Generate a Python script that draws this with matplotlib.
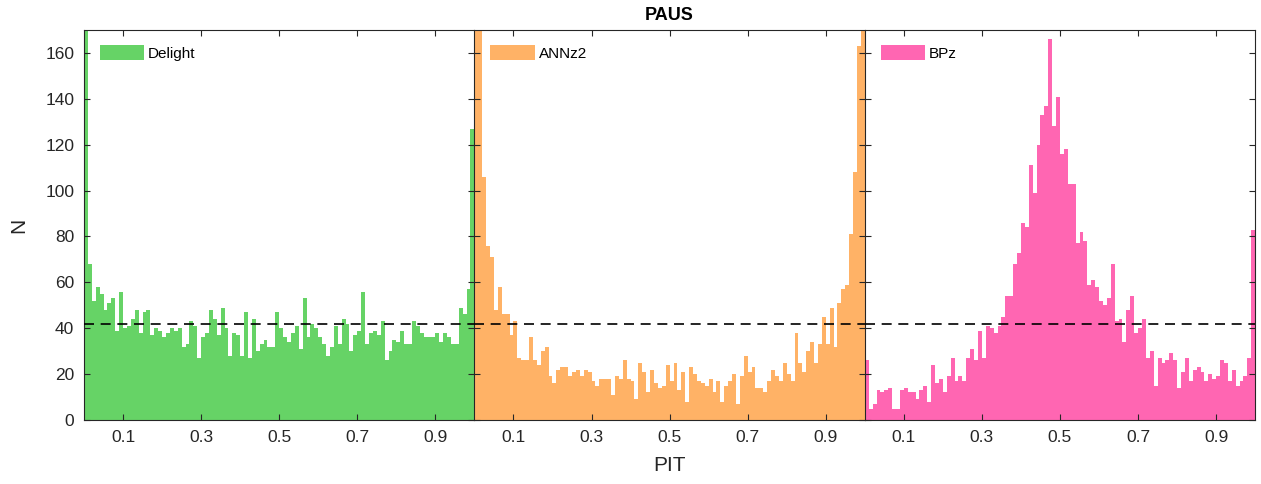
import numpy as np
import matplotlib
matplotlib.use("Agg")
import matplotlib.pyplot as plt

plt.rcParams['font.family'] = ['Liberation Sans', 'DejaVu Sans']

# ---- data (100 PIT bins on [0, 1]) ----
bin_edges = np.linspace(0.0, 1.0, 101)
mean_level = 42

delight = [190, 68, 52, 58, 55, 48, 51, 53, 39, 56,
           40, 41, 44, 48, 38, 47, 48, 37, 40, 39,
           36, 38, 40, 39, 40, 32, 33, 43, 41, 27,
           36, 38, 48, 44, 37, 49, 40, 28, 38, 37,
           28, 47, 27, 44, 30, 33, 35, 32, 32, 47,
           40, 36, 34, 38, 41, 31, 53, 36, 42, 40,
           36, 33, 28, 32, 41, 33, 44, 42, 30, 37,
           39, 56, 33, 38, 39, 37, 43, 26, 30, 35,
           34, 39, 33, 33, 43, 41, 38, 36, 36, 36,
           38, 34, 38, 36, 33, 33, 49, 46, 57, 127]

annz2 = [250, 175, 106, 76, 71, 48, 58, 46, 46, 37,
         43, 27, 26, 26, 36, 26, 24, 30, 32, 19,
         16, 22, 23, 23, 19, 21, 22, 19, 22, 21,
         17, 15, 18, 18, 18, 11, 19, 18, 26, 18,
         17, 9, 25, 21, 12, 22, 16, 14, 15, 24,
         17, 25, 13, 21, 8, 23, 20, 17, 16, 15,
         18, 12, 17, 8, 15, 17, 20, 7, 19, 28,
         21, 23, 14, 14, 12, 17, 22, 19, 17, 25,
         20, 17, 38, 25, 21, 30, 34, 25, 33, 45,
         33, 49, 32, 51, 57, 59, 81, 108, 163, 210]

bpz = [26, 5, 7, 13, 12, 13, 14, 5, 5, 13,
       14, 12, 12, 9, 13, 15, 8, 24, 16, 18,
       12, 19, 27, 17, 19, 17, 27, 31, 26, 39,
       27, 41, 40, 38, 41, 45, 54, 54, 68, 73,
       86, 84, 111, 99, 120, 133, 137, 166, 128, 141,
       116, 118, 103, 103, 77, 82, 78, 59, 61, 58,
       52, 50, 53, 68, 43, 44, 34, 48, 54, 38,
       40, 44, 27, 30, 15, 27, 25, 26, 29, 26,
       14, 21, 27, 17, 22, 23, 21, 17, 20, 18,
       19, 26, 25, 17, 22, 15, 17, 19, 27, 83]

names = ['Delight', 'ANNz2', 'BPz']
series = [delight, annz2, bpz]
colors = ['#66D366', '#FFB266', '#FF66B2']
xticks = [0.1, 0.3, 0.5, 0.7, 0.9]
xticklabels = ['0.1', '0.3', '0.5', '0.7', '0.9']
yticks = list(range(0, 161, 20))

W, H = 1261, 484
fig = plt.figure(figsize=(W / 100, H / 100), dpi=100)

pw = 390.4
lefts = [84, 84 + pw, 84 + 2 * pw]
bottom_px, top_px = 420, 30
axes = []
for i, (name, vals, col) in enumerate(zip(names, series, colors)):
    ax = fig.add_axes([lefts[i] / W, (H - bottom_px) / H, pw / W, (bottom_px - top_px) / H])
    ax.bar(bin_edges[:-1], vals, width=np.diff(bin_edges), align='edge',
           color=col, edgecolor='none', linewidth=0, label=name)
    ax.axhline(mean_level, color='black', linestyle=(0, (6, 4)), linewidth=1.2, zorder=3)
    ax.set_xlim(0, 1)
    ax.set_ylim(0, 170)
    ax.set_xticks(xticks)
    ax.set_xticklabels(xticklabels)
    ax.set_yticks(yticks)
    ax.tick_params(direction='in', top=True, right=True, length=4, width=0.8,
                   color='#262626', labelcolor='#262626', labelsize=12.5, pad=7)
    if i > 0:
        ax.tick_params(labelleft=False)
    for s in ax.spines.values():
        s.set_color('#262626')
        s.set_linewidth(0.8)
    if i < 2:
        ax.spines['right'].set_visible(False)
    leg = ax.legend(loc='upper left', bbox_to_anchor=(16 / pw, 1 - 15 / 390),
                    frameon=False, fontsize=11, handlelength=2.9, handleheight=1.1,
                    handletextpad=0.25, borderpad=0, borderaxespad=0)
    for t in leg.get_texts():
        t.set_color('black')
    axes.append(ax)

axes[0].set_ylabel('N', fontsize=15, color='#262626', labelpad=12)
axes[1].set_xlabel('PIT', fontsize=15, color='#262626', labelpad=8)
axes[1].set_title('PAUS', fontsize=13, fontweight='bold', pad=7)

fig.savefig('out.png', dpi=100)
